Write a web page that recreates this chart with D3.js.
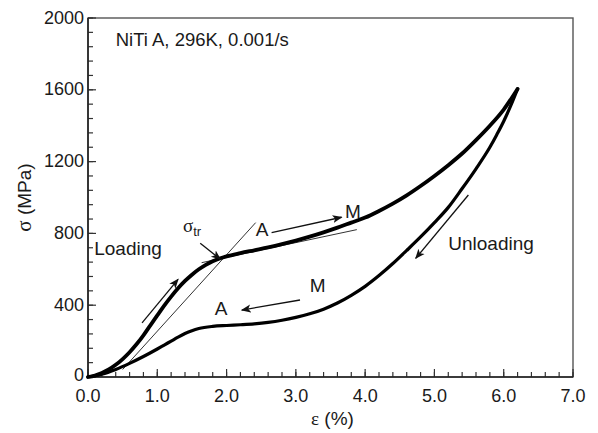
<!DOCTYPE html>
<html>
<head>
<meta charset="utf-8">
<script src="https://cdn.jsdelivr.net/npm/d3@7"></script>
<style>
  html, body { margin: 0; padding: 0; background: #fff; }
  svg { display: block; }
  text { font-family: "Liberation Sans", Arial, sans-serif; fill: #1a1a1a; }
  .greek { font-family: "Liberation Serif", "DejaVu Serif", serif; }
</style>
</head>
<body>
<svg id="chart" width="598" height="433"></svg>
<script>
// Superelastic NiTi stress–strain loop, strain (%) vs stress (MPa)
const loadStrain = [0, 0.1, 0.2, 0.3, 0.4, 0.5, 0.6, 0.7, 0.8, 0.9, 1.0, 1.1, 1.2, 1.3, 1.4, 1.5, 1.6, 1.7, 1.8, 1.9, 2.0, 2.2, 2.4, 2.6, 2.8, 3.0, 3.2, 3.4, 3.6, 3.8, 4.0, 4.2, 4.4, 4.6, 4.8, 5.0, 5.2, 5.4, 5.6, 5.8, 6.0, 6.2];
const loadStress = [0, 8, 22, 42, 68, 100, 138, 182, 232, 288, 343, 398, 448, 494, 535, 570, 600, 625, 645, 660, 672, 690, 706, 722, 740, 760, 782, 806, 832, 860, 888, 925, 966, 1012, 1064, 1120, 1180, 1245, 1320, 1400, 1490, 1605];

const unloadStrain = [0, 0.2, 0.4, 0.6, 0.8, 1.0, 1.1, 1.2, 1.3, 1.4, 1.5, 1.6, 1.8, 2.0, 2.2, 2.4, 2.6, 2.8, 3.0, 3.2, 3.4, 3.6, 3.8, 4.0, 4.2, 4.4, 4.6, 4.8, 5.0, 5.2, 5.4, 5.6, 5.8, 5.9, 6.0, 6.1, 6.2];
const unloadStress = [0, 15, 42, 76, 114, 156, 178, 200, 222, 242, 258, 270, 282, 287, 291, 296, 304, 316, 332, 352, 378, 412, 455, 505, 565, 632, 705, 780, 860, 945, 1050, 1160, 1280, 1350, 1425, 1510, 1605];

// Construction lines used to define the transformation stress
const elasticLine = [[0.5, 42], [2.42, 860]];
const plateauLine = [[1.64, 637], [3.88, 821]];

// Axis ticks
const xMajor = [0, 1, 2, 3, 4, 5, 6, 7];
const yMajor = [0, 400, 800, 1200, 1600, 2000];

// Annotations (strain, stress)
const arrows = [
  [[0.78, 302], [1.30, 544]],   // loading direction
  [[5.49, 1014], [4.73, 661]],  // unloading direction
  [[2.65, 804], [3.66, 890]],   // A -> M
  [[3.06, 429], [2.22, 373]],   // M -> A
  [[1.62, 745], [1.91, 656]]    // sigma_tr pointer
];
const labels = [
  { text: "Loading", x: 0.09, y: 680, size: 19 },
  { text: "Unloading", x: 5.20, y: 708, size: 19 },
  { text: "A", x: 2.42, y: 783, size: 19 },
  { text: "M", x: 3.71, y: 886, size: 19 },
  { text: "M", x: 3.20, y: 476, size: 19 },
  { text: "A", x: 1.83, y: 343, size: 19 },
  { text: "NiTi A, 296K, 0.001/s", x: 0.40, y: 1844, size: 18.5 }
];

const margin = { top: 18, right: 25, bottom: 56, left: 88 };
const W = 598, H = 433;
const iw = W - margin.left - margin.right;
const ih = H - margin.top - margin.bottom;

const svg = d3.select("#chart");
const g = svg.append("g").attr("transform", `translate(${margin.left},${margin.top})`);

const x = d3.scaleLinear().domain([0, 7]).range([0, iw]);
const y = d3.scaleLinear().domain([0, 2000]).range([ih, 0]);

svg.append("defs").append("marker")
  .attr("id", "head")
  .attr("viewBox", "0 0 10 10")
  .attr("refX", 9).attr("refY", 5)
  .attr("markerWidth", 10).attr("markerHeight", 10)
  .attr("markerUnits", "userSpaceOnUse")
  .attr("orient", "auto")
  .append("path").attr("d", "M0,1 L10,5 L0,9 L2.5,5 Z").attr("fill", "#111");

// Frame
g.append("rect").attr("x", 0).attr("y", 0).attr("width", iw).attr("height", ih)
  .attr("fill", "none").attr("stroke", "#555").attr("stroke-width", 1.4);

// Bottom axis: inward ticks, majors every 1.0, minors every 0.2
const xAxis = g.append("g").attr("transform", `translate(0,${ih})`);
xAxis.selectAll("line.minor").data(d3.range(0, 7.001, 0.2)).join("line")
  .attr("x1", d => x(d)).attr("x2", d => x(d))
  .attr("y1", 0).attr("y2", -5).attr("stroke", "#333").attr("stroke-width", 1.2);
xAxis.selectAll("line.major").data(xMajor).join("line")
  .attr("x1", d => x(d)).attr("x2", d => x(d))
  .attr("y1", 0).attr("y2", -8).attr("stroke", "#333").attr("stroke-width", 1.2);
xAxis.selectAll("text").data(xMajor).join("text")
  .attr("x", d => x(d)).attr("y", 24.5).attr("text-anchor", "middle")
  .style("font-size", "18px").text(d => d3.format(".1f")(d));
xAxis.append("line").attr("x1", 0).attr("x2", iw).attr("stroke", "#222").attr("stroke-width", 1.6);

// Left axis: inward ticks, majors every 400, minors every 80
const yAxis = g.append("g");
yAxis.selectAll("line.minor").data(d3.range(0, 2000.1, 80)).join("line")
  .attr("y1", d => y(d)).attr("y2", d => y(d))
  .attr("x1", 0).attr("x2", 5).attr("stroke", "#333").attr("stroke-width", 1.2);
yAxis.selectAll("line.major").data(yMajor).join("line")
  .attr("y1", d => y(d)).attr("y2", d => y(d))
  .attr("x1", 0).attr("x2", 8).attr("stroke", "#333").attr("stroke-width", 1.2);
yAxis.selectAll("text").data(yMajor).join("text")
  .attr("x", -4).attr("y", d => y(d) + (d === 0 ? 4 : 5.5)).attr("text-anchor", "end")
  .style("font-size", "18px").text(d => d);
yAxis.append("line").attr("y1", 0).attr("y2", ih).attr("stroke", "#222").attr("stroke-width", 1.6);

// Axis titles
const xt = svg.append("text").attr("x", margin.left + iw / 2 + 2).attr("y", 425)
  .attr("text-anchor", "middle").style("font-size", "19px");
xt.append("tspan").attr("class", "greek").text("\u03b5");
xt.append("tspan").text(" (%)");

const yt = svg.append("text")
  .attr("transform", `translate(31,${margin.top + ih / 2}) rotate(-90)`)
  .attr("text-anchor", "middle").style("font-size", "19px");
yt.append("tspan").attr("class", "greek").style("font-size", "21px").text("\u03c3");
yt.append("tspan").text(" (MPa)");

// Construction lines
const line = d3.line().x(d => x(d[0])).y(d => y(d[1]));
[elasticLine, plateauLine].forEach(seg => {
  g.append("path").attr("d", line(seg)).attr("fill", "none")
    .attr("stroke", "#333").attr("stroke-width", 1);
});

// Curves
const curve = d3.line().x(d => x(d[0])).y(d => y(d[1])).curve(d3.curveMonotoneX);
g.append("path").attr("d", curve(unloadStrain.map((e, i) => [e, unloadStress[i]])))
  .attr("fill", "none").attr("stroke", "#000").attr("stroke-width", 3.2)
  .attr("stroke-linejoin", "round").attr("stroke-linecap", "round");
g.append("path").attr("d", curve(loadStrain.map((e, i) => [e, loadStress[i]])))
  .attr("fill", "none").attr("stroke", "#000").attr("stroke-width", 3.8)
  .attr("stroke-linejoin", "round").attr("stroke-linecap", "round");

// Arrows
arrows.forEach(a => {
  g.append("path").attr("d", line(a)).attr("fill", "none")
    .attr("stroke", "#111").attr("stroke-width", 1.3).attr("marker-end", "url(#head)");
});

// Labels
labels.forEach(l => {
  g.append("text").attr("x", x(l.x)).attr("y", y(l.y))
    .style("font-size", l.size + "px").text(l.text);
});

// Transformation stress label
const st = g.append("text").attr("x", x(1.37)).attr("y", y(808));
st.append("tspan").attr("class", "greek").style("font-size", "19px").text("\u03c3");
st.append("tspan").attr("dy", 4).style("font-size", "13px").text("tr");
</script>
</body>
</html>
